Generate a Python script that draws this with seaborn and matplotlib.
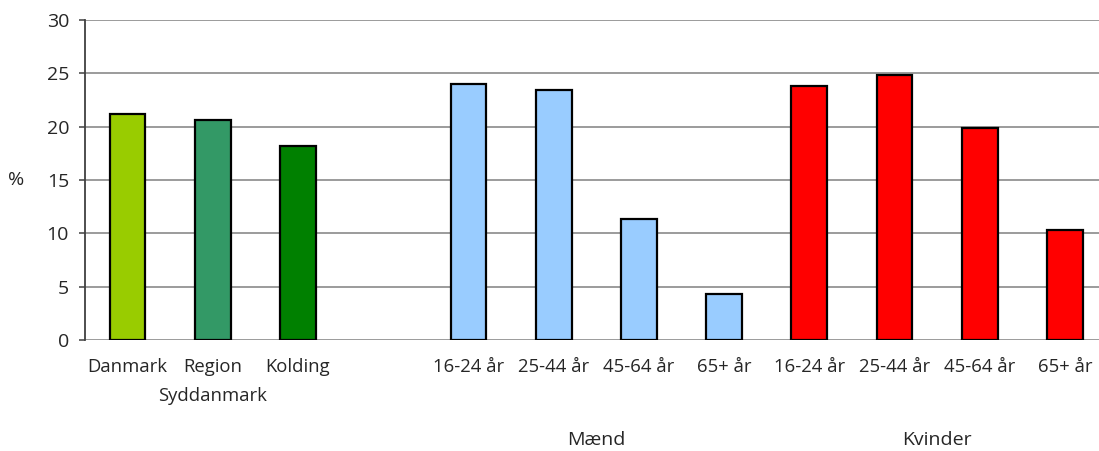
import numpy as np
import pandas as pd
import matplotlib
matplotlib.use("Agg")
import matplotlib.pyplot as plt
import matplotlib.transforms as mtransforms
import seaborn as sns

# data
slot_labels = ["Danmark", "Region", "Kolding", "",
               "16-24 år", "25-44 år", "45-64 år", "65+ år",
               "16-24 år", "25-44 år", "45-64 år", "65+ år"]
pct = [21.2, 20.6, 18.2, np.nan,
       24.0, 23.4, 11.3, 4.3,
       23.8, 24.8, 19.9, 10.3]
bar_colors = ["#99CC00", "#339966", "#008000", "#FFFFFF",
              "#99CCFF", "#99CCFF", "#99CCFF", "#99CCFF",
              "#FF0000", "#FF0000", "#FF0000", "#FF0000"]
second_line = "Syddanmark"   # second line of the "Region" label
groups = ["Mænd", "Kvinder"]
group_pos = [5.5, 9.5]

slots = [f"s{i}" for i in range(len(slot_labels))]
df = pd.DataFrame({"slot": slots, "pct": pct}).dropna()

sns.set_style("white")
plt.rcParams["font.family"] = ["Open Sans", "DejaVu Sans"]
fs = 14
xfs = 13.3

fig = plt.figure(figsize=(10.99, 4.51), dpi=100)
ax = fig.add_axes([85 / 1099, 111 / 451, 1 - 85 / 1099, 320 / 451])

sns.barplot(data=df, x="slot", y="pct", hue="slot", order=slots, hue_order=slots,
            palette=dict(zip(slots, bar_colors)), legend=False, width=0.42,
            saturation=1, edgecolor="black", linewidth=1.6, ax=ax, zorder=3)

ax.set_ylim(0, 30)
ax.set_yticks(range(0, 31, 5))
ax.set_xlim(-0.5, 11.4)
ax.set_xticks(range(len(slots)))
ax.set_xticklabels(slot_labels, fontsize=xfs)
ax.tick_params(axis="x", length=0, pad=13)
ax.tick_params(axis="y", length=4.5, width=1.1, color="#404040", pad=7, labelsize=fs, left=True)
ax.grid(axis="y", color="#808080", linewidth=1.1, zorder=0)
ax.set_axisbelow(True)
for s in ["top", "right", "bottom"]:
    ax.spines[s].set_visible(False)
ax.spines["left"].set_color("#404040")
ax.spines["left"].set_linewidth(1.3)
ax.set_xlabel("")
ax.set_ylabel("%", rotation=0, fontsize=fs, labelpad=22, va="center")

trans = mtransforms.blended_transform_factory(ax.transData, ax.transAxes)
ax.text(1, -0.175, second_line, transform=trans, ha="center", va="center", fontsize=xfs)
for g, p in zip(groups, group_pos):
    ax.text(p, -0.3125, g, transform=trans, ha="center", va="center", fontsize=fs)

fig.savefig("out.png", dpi=100)
